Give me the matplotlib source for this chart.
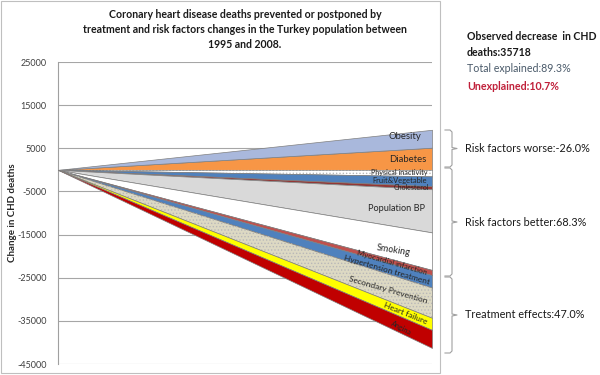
import numpy as np
import matplotlib.pyplot as plt
from matplotlib.lines import Line2D
from matplotlib.patches import Rectangle

plt.rcParams['font.family'] = ['Lato', 'DejaVu Sans']
plt.rcParams['hatch.linewidth'] = 0.6

# Contributions to change in CHD deaths, 1995-2008 (deaths)
worse_labels = ["Diabetes", "Obesity"]
worse_values = [5140, 4150]
better_labels = ["Physical inactivity", "Fruit&Vegetable", "Cholesterol",
                 "Population BP", "Smoking"]
better_values = [-1500, -2300, -700, -10000, -8700]
treat_labels = ["Myocardial infarction", "Hypertension treatment",
                "Secondary Prevention", "Heart failure", "Angina"]
treat_values = [-1200, -2900, -7000, -2800, -4180]

observed = 35718
total_explained = 89.3
unexplained = 10.7
worse_pct = -26.0
better_pct = 68.3
treat_pct = 47.0

yticks = list(range(-45000, 25001, 10000))

# styles
colors = {
    "Diabetes": "#F79646", "Obesity": "#A9B8DC",
    "Physical inactivity": "#FFFFFF", "Fruit&Vegetable": "#4F81BD",
    "Cholesterol": "#953735", "Population BP": "#D9D9D9", "Smoking": "#FFFFFF",
    "Myocardial infarction": "#C0504D", "Hypertension treatment": "#4F81BD",
    "Secondary Prevention": "#DDD9C3", "Heart failure": "#FFFF00",
    "Angina": "#C00000",
}
hatched = {"Physical inactivity", "Secondary Prevention"}
# label anchor (x fraction, y value, size, rotation)
label_pos = {
    "Obesity": (0.928, 7700, 6.8, 0),
    "Diabetes": (0.936, 2500, 6.8, 0),
    "Physical inactivity": (0.912, -650, 5.2, 0),
    "Fruit&Vegetable": (0.914, -2450, 5.4, 0),
    "Cholesterol": (0.944, -4100, 5.0, 0),
    "Population BP": (0.906, -8950, 6.6, 0),
    "Smoking": (0.896, -18600, 6.6, -9),
    "Myocardial infarction": (0.893, -21500, 5.6, -16),
    "Hypertension treatment": (0.88, -23100, 6.0, -16),
    "Secondary Prevention": (0.882, -27900, 6.0, -16),
    "Heart failure": (0.928, -33200, 6.0, -22),
    "Angina": (0.917, -36700, 5.2, -28),
}

W, H = 600, 375
fig = plt.figure(figsize=(W / 100, H / 100), dpi=100)


def fx(px):
    return px / W


def fy(py):
    return 1 - py / H


ax = fig.add_axes([fx(58), fy(364), fx(432) - fx(58), fy(62) - fy(364)])

x = np.array([0.0, 1.0])


def draw_stack(labels, values):
    base = 0.0
    for name, v in zip(labels, values):
        lo, hi = base, base + v
        ax.fill_between(x, x * lo, x * hi, facecolor=colors[name],
                        edgecolor='#7f7f7f', linewidth=0.5, zorder=3)
        if name in hatched:
            ax.fill_between(x, x * lo, x * hi, facecolor='none', hatch='.....',
                            edgecolor='#b8b8b8', linewidth=0, zorder=3)
        base = hi


draw_stack(worse_labels, worse_values)
draw_stack(better_labels + treat_labels, better_values + treat_values)

for name in worse_labels + better_labels + treat_labels:
    px, py, fs, rot = label_pos[name]
    ax.text(px, py, name, ha='center', va='center', fontsize=fs, rotation=rot,
            color='#262626', zorder=5, rotation_mode='anchor')

ax.set_xlim(0, 1)
ax.set_ylim(-45000, 25000)
ax.set_yticks(yticks)
ax.set_yticklabels([str(t) for t in yticks], fontsize=6.5, color='#404040')
ax.set_xticks([])
ax.tick_params(axis='y', length=0, pad=8)
ax.grid(axis='y', color='#a6a6a6', linewidth=0.8, zorder=0)
for s in ['top', 'right', 'bottom']:
    ax.spines[s].set_visible(False)
ax.spines['left'].set_color('#a0a0a0')
ax.set_ylabel("Change in CHD deaths", fontsize=7, fontweight='bold', color='#262626')
ax.yaxis.set_label_coords(-0.11, 0.5)

fig.text(fx(245), fy(9), "Coronary heart disease deaths prevented or postponed by\n"
         "treatment and risk factors changes in the Turkey population between\n"
         "1995 and 2008.", ha='center', va='top', fontsize=7.6,
         fontweight='bold', linespacing=1.45, color='#1a1a1a')

# chart frame
fig.patches.append(Rectangle((fx(1), fy(373)), fx(440) - fx(1), fy(1) - fy(373),
                             transform=fig.transFigure, fill=False,
                             edgecolor='#bfbfbf', linewidth=0.8))

fig.text(fx(467), fy(36), "Observed decrease  in CHD", fontsize=7.6,
         fontweight='bold', va='center', color='#1a1a1a')
fig.text(fx(467), fy(52), "deaths:{}".format(observed), fontsize=7.6,
         fontweight='bold', va='center', color='#1a1a1a')
fig.text(fx(467), fy(69), "Total explained:{}%".format(total_explained),
         fontsize=7.7, va='center', color='#4a5a6a')
fig.text(fx(467), fy(87), "Unexplained:{}%".format(unexplained), fontsize=7.7,
         fontweight='bold', va='center', color='#C0203A')


def bracket(top, bottom, xv, text):
    mid = (top + bottom) / 2
    xs = [xv - 7, xv - 2, xv, xv, xv + 5, xv, xv, xv - 2, xv - 7]
    ys = [top, top, top + 2, mid - 1, mid, mid + 1, bottom - 2, bottom, bottom]
    fig.lines.append(Line2D([fx(a) for a in xs], [fy(b) for b in ys],
                            transform=fig.transFigure, color='#a0a0a0',
                            linewidth=0.8))
    fig.text(fx(xv + 13), fy(mid), text, fontsize=7.8, va='center',
             color='#1a1a1a')


bracket(130, 167, 452, "Risk factors worse:{}%".format(worse_pct))
bracket(168, 276, 452, "Risk factors better:{}%".format(better_pct))
bracket(277, 353, 452, "Treatment effects:{}%".format(treat_pct))

fig.savefig("out.png", dpi=100)
